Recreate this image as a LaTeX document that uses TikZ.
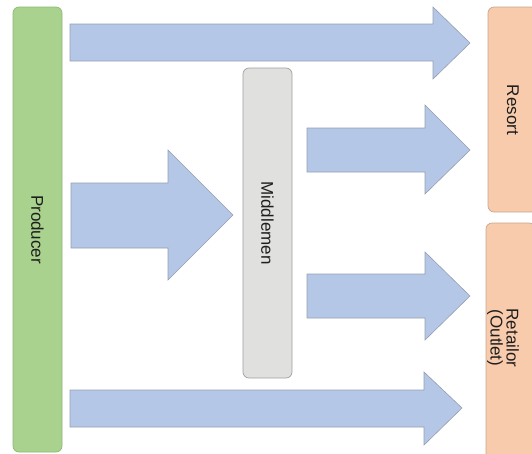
\documentclass[tikz,border=0pt]{standalone}
\usepackage{fontspec}
\setmainfont{Liberation Sans}
\definecolor{prodfill}{RGB}{168,210,142}
\definecolor{prodedge}{RGB}{140,185,115}
\definecolor{midfill}{RGB}{224,224,222}
\definecolor{midedge}{RGB}{160,160,158}
\definecolor{endfill}{RGB}{248,203,173}
\definecolor{endedge}{RGB}{200,165,140}
\definecolor{flowfill}{RGB}{180,199,231}
\definecolor{flowedge}{RGB}{150,158,175}
\definecolor{labelink}{RGB}{30,30,30}
\begin{document}
\begin{tikzpicture}[x=1pt,y=-1pt,
  stage/.style={rectangle, rounded corners=6pt, line width=0.7pt,
    rotate=-90, text=labelink, align=center,
    font=\fontsize{17}{17}\selectfont},
  producer/.style={stage, fill=prodfill, draw=prodedge},
  middle/.style={stage, fill=midfill, draw=midedge},
  outlet/.style={stage, fill=endfill, draw=endedge},
  caption/.style={rotate=-90, text=labelink, align=center,
    font=\fontsize{17}{16}\selectfont},
  flow/.style={fill=flowfill, draw=flowedge, line width=0.6pt, line join=miter}]
\useasboundingbox (0,0) rectangle (532,453);
\clip (0,0) rectangle (532,453);

% channel stages (text runs top to bottom)
\node[producer, minimum width=445pt, minimum height=49pt] (prod) at (37.5,229.5) {Producer};
\node[middle, minimum width=310pt, minimum height=49pt] (mid) at (267.5,223) {Middlemen};
\node[outlet, minimum width=205pt, minimum height=49pt] (resort) at (512.5,109.5) {};
\node[caption] (resorttext) at (513,110) {Resort};
\node[outlet, minimum width=240pt, minimum height=49pt] (retail) at (510.5,343) {};
\node[caption] (retailtext) at (503,338) {Retailor\\(Outlet)};

% block arrows for the flow of goods
% producer -> resort
\draw[flow] (70,24) -- (433,24) -- (433,7) -- (470,43) -- (433,79) -- (433,61) -- (70,61) -- cycle;
% producer -> middlemen
\draw[flow] (71,183) -- (168,183) -- (168,150) -- (233,215) -- (168,280) -- (168,248) -- (71,248) -- cycle;
% middlemen -> resort
\draw[flow] (307,128) -- (425,128) -- (425,105) -- (470,150) -- (425,194) -- (425,172) -- (307,172) -- cycle;
% middlemen -> retailor
\draw[flow] (307,274) -- (425,274) -- (425,252) -- (470,296) -- (425,340) -- (425,318) -- (307,318) -- cycle;
% producer -> retailor
\draw[flow] (70,390) -- (424,390) -- (424,372) -- (462,408) -- (424,445) -- (424,427) -- (70,427) -- cycle;
\end{tikzpicture}
\end{document}
